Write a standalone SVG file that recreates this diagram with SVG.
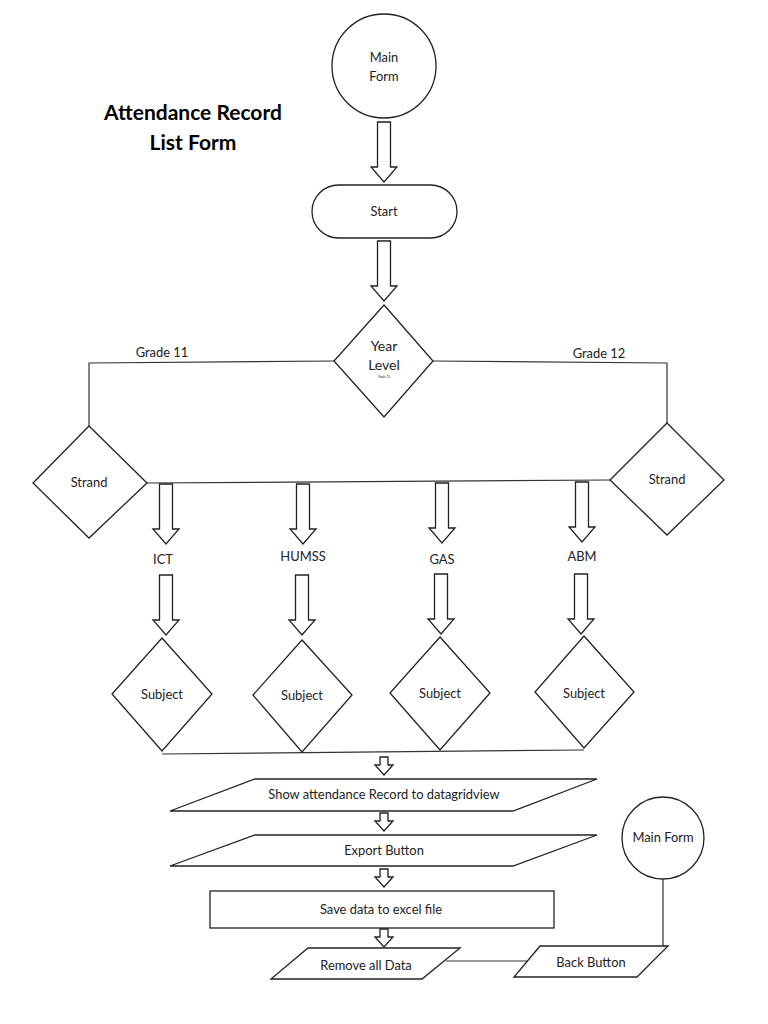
<svg xmlns="http://www.w3.org/2000/svg" width="768" height="1024" viewBox="0 0 768 1024">
<defs>
<style>
.s{fill:#fff;stroke:#222;stroke-width:1.3}
.l{fill:none;stroke:#333;stroke-width:1.2}
text{font-family:Lato,"Open Sans","Liberation Sans",sans-serif;fill:#222;text-anchor:middle;font-size:12.9px}
.t{font-weight:bold;font-size:21px;fill:#000}
</style>
<path id="big" class="s" d="M-6.5,0 H6.5 V45 H13 L0,60 L-13,45 H-6.5 Z"/>
<path id="sm" class="s" d="M-4,0 H4 V8 H9 L0,18 L-9,8 H-4 Z"/>
</defs>
<rect width="768" height="1024" fill="#fff"/>

<g id="title">
<text class="t" x="193" y="120">Attendance Record</text>
<text class="t" x="193" y="150">List Form</text>
</g>

<g id="connectors">
<polyline class="l" points="334,361 89,363 89,426"/>
<polyline class="l" points="433,361 667,363 667,423"/>
<line class="l" x1="147" y1="483" x2="610" y2="480"/>
<line class="l" x1="162" y1="754" x2="584" y2="750"/>
<line class="l" x1="446" y1="961" x2="528" y2="961"/>
<line class="l" x1="663" y1="879" x2="663" y2="946"/>
<use href="#big" x="384" y="122"/>
<use href="#big" x="384" y="241"/>
<use href="#big" x="166" y="484"/>
<use href="#big" x="303" y="484"/>
<use href="#big" x="442" y="483"/>
<use href="#big" x="582" y="482"/>
<use href="#big" x="166" y="575"/>
<use href="#big" x="302" y="575"/>
<use href="#big" x="441" y="574"/>
<use href="#big" x="581" y="574"/>
<use href="#sm" x="384" y="757"/>
<use href="#sm" x="384" y="813"/>
<use href="#sm" x="384" y="869"/>
<use href="#sm" x="384" y="929"/>
<text x="162" y="357">Grade 11</text>
<text x="599" y="358">Grade 12</text>
</g>

<g id="main-form-top">
<circle class="s" cx="384" cy="66" r="52"/>
<text x="384" y="62">Main</text>
<text x="384" y="81">Form</text>
</g>

<g id="start">
<rect class="s" x="312" y="185" width="145" height="53" rx="26.5"/>
<text x="384" y="216">Start</text>
</g>

<g id="year-level">
<polygon class="s" points="384,305 433,361 384,417 334,361"/>
<text x="384" y="351" style="font-size:14px">Year</text>
<text x="384" y="370" style="font-size:14px">Level</text>
<text x="384" y="378" style="font-size:3px">Grade 11</text>
</g>

<g id="strand-left">
<polygon class="s" points="89,426 147,483 89,538 33,483"/>
<text x="89" y="487">Strand</text>
</g>

<g id="strand-right">
<polygon class="s" points="667,423 724,480 667,535 610,480"/>
<text x="667" y="484">Strand</text>
</g>

<g id="strand-labels">
<text x="163" y="564">ICT</text>
<text x="303" y="561">HUMSS</text>
<text x="442" y="564">GAS</text>
<text x="582" y="561">ABM</text>
</g>

<g id="subject-ict">
<polygon class="s" points="162,638 212,694 162,751 112,694"/>
<text x="162" y="699">Subject</text>
</g>
<g id="subject-humss">
<polygon class="s" points="302,640 352,695 302,752 253,695"/>
<text x="302" y="700">Subject</text>
</g>
<g id="subject-gas">
<polygon class="s" points="440,637 490,693 440,750 390,693"/>
<text x="440" y="698">Subject</text>
</g>
<g id="subject-abm">
<polygon class="s" points="584,636 634,692 584,748 535,692"/>
<text x="584" y="698">Subject</text>
</g>

<g id="show-record">
<polygon class="s" points="255,779 597,779 513,811 170,811"/>
<text x="384" y="799">Show attendance Record to datagridview</text>
</g>

<g id="export">
<polygon class="s" points="255,835 597,835 513,866 170,866"/>
<text x="384" y="855">Export Button</text>
</g>

<g id="save">
<rect class="s" x="210" y="891" width="344" height="37"/>
<text x="381" y="914">Save data to excel file</text>
</g>

<g id="remove">
<polygon class="s" points="308,948 460,948 422,979 271,979"/>
<text x="366" y="970">Remove all Data</text>
</g>

<g id="back">
<polygon class="s" points="540,946 668,946 637,977 514,977"/>
<text x="591" y="967">Back Button</text>
</g>

<g id="main-form-bottom">
<circle class="s" cx="663" cy="838" r="41"/>
<text x="663" y="842">Main Form</text>
</g>
</svg>
